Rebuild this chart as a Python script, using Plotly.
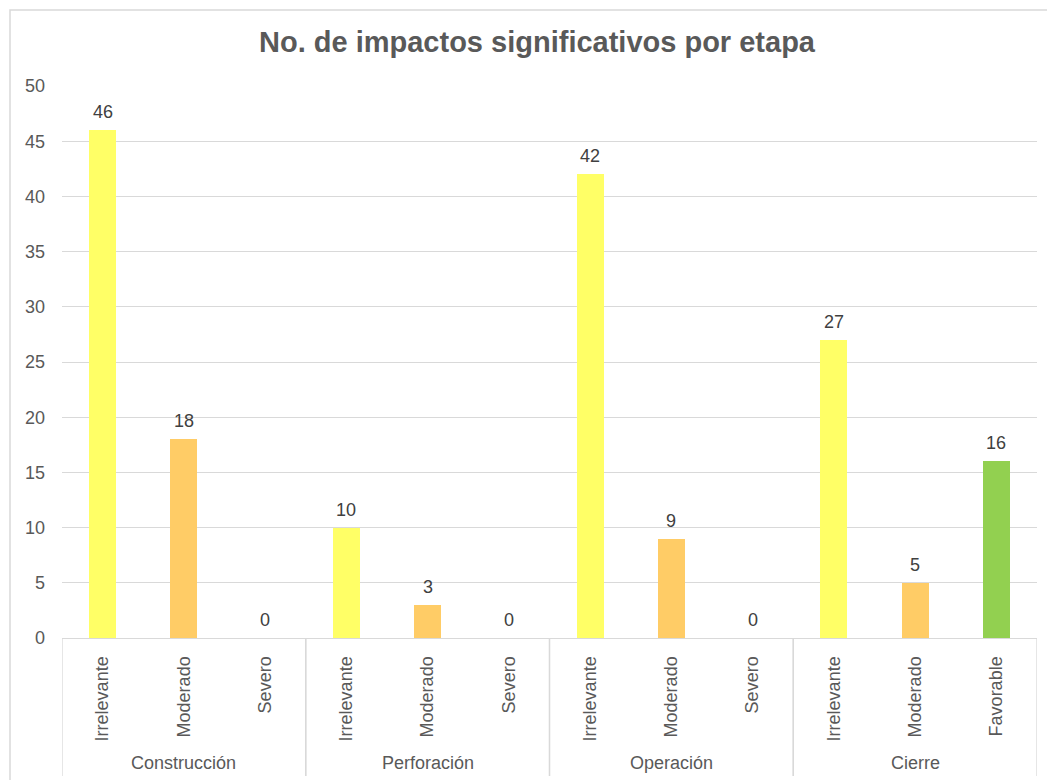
import plotly.graph_objects as go

# Stages and the impact level counted in each slot
stages = ["Construcción", "Perforación", "Operación", "Cierre"]
levels = [
    ["Irrelevante", "Moderado", "Severo"],
    ["Irrelevante", "Moderado", "Severo"],
    ["Irrelevante", "Moderado", "Severo"],
    ["Irrelevante", "Moderado", "Favorable"],
]
counts = [
    [46, 18, 0],
    [10, 3, 0],
    [42, 9, 0],
    [27, 5, 16],
]
level_colors = {
    "Irrelevante": "#FFFF66",
    "Moderado": "#FFCC66",
    "Severo": "#FF6666",
    "Favorable": "#92D050",
}
y_ticks = [0, 5, 10, 15, 20, 25, 30, 35, 40, 45, 50]

FONT = "Liberation Sans, Arial, sans-serif"
TXT = "#595959"
GRID = "#D9D9D9"

W, H = 1047, 780
ML, MR, MT, MB = 62, 10, 86, 142
plot_w = W - ML - MR
plot_h = H - MT - MB

# Flatten the two-level categories into consecutive slots
xs, ys, names, cols = [], [], [], []
group_spans = []
i = 0
for stage, lv, cn in zip(stages, levels, counts):
    start = i
    for name, val in zip(lv, cn):
        xs.append(i)
        ys.append(val)
        names.append(name)
        cols.append(level_colors[name])
        i += 1
    group_spans.append((stage, start, i - 1))

fig = go.Figure()
fig.add_trace(go.Bar(
    x=xs, y=ys, marker=dict(color=cols, line=dict(width=0)),
    width=0.33, hoverinfo="skip", showlegend=False,
))

annotations = []
# Value labels above each bar
for x, v in zip(xs, ys):
    annotations.append(dict(
        x=x, y=v, xref="x", yref="y", text=str(v), showarrow=False,
        yanchor="bottom", yshift=6,
        font=dict(family=FONT, size=18, color="#404040"),
    ))

shapes = []
div_bottom = -(776 - (H - MB)) / plot_h
for stage, a, b in group_spans:
    annotations.append(dict(
        x=(a + b) / 2, y=-(763 - (H - MB)) / plot_h, xref="x", yref="paper",
        text=stage, showarrow=False, yanchor="middle",
        font=dict(family=FONT, size=18, color=TXT),
    ))
    for edge in (a - 0.5, b + 0.5):
        shapes.append(dict(
            type="line", xref="x", yref="paper", x0=edge, x1=edge,
            y0=0, y1=div_bottom, line=dict(color=GRID, width=1.3),
        ))

# Chart area border
shapes.append(dict(
    type="rect", xref="paper", yref="paper",
    x0=(10 - ML) / plot_w, x1=(W + 20 - ML) / plot_w,
    y0=-(H + 20 - (H - MB)) / plot_h, y1=(H - MB - 10) / plot_h,
    line=dict(color=GRID, width=1.5), fillcolor="rgba(0,0,0,0)", layer="below",
))

fig.update_layout(
    width=W, height=H,
    margin=dict(l=ML, r=MR, t=MT, b=MB, pad=0),
    paper_bgcolor="white", plot_bgcolor="white",
    title=dict(
        text="<b>No. de impactos significativos por etapa</b>",
        x=537 / W, xanchor="center", xref="container",
        y=1 - 42 / H, yanchor="middle", yref="container",
        font=dict(family=FONT, size=29, color=TXT),
    ),
    xaxis=dict(
        range=[-0.5, len(xs) - 0.5],
        tickmode="array", tickvals=xs, ticktext=names,
        tickangle=-90, ticks="", ticklabelstandoff=10,
        tickfont=dict(family=FONT, size=18, color=TXT),
        showgrid=False, zeroline=False,
        showline=True, linecolor=GRID, linewidth=1.3,
        fixedrange=True,
    ),
    yaxis=dict(
        range=[0, 50], tickmode="array", tickvals=y_ticks,
        ticks="", ticklabelstandoff=16,
        tickfont=dict(family=FONT, size=18, color=TXT),
        showgrid=True, gridcolor=GRID, gridwidth=1.3,
        zeroline=False, showline=False, fixedrange=True,
    ),
    annotations=annotations,
    shapes=shapes,
    bargap=0,
)

fig.write_html("out.html")
